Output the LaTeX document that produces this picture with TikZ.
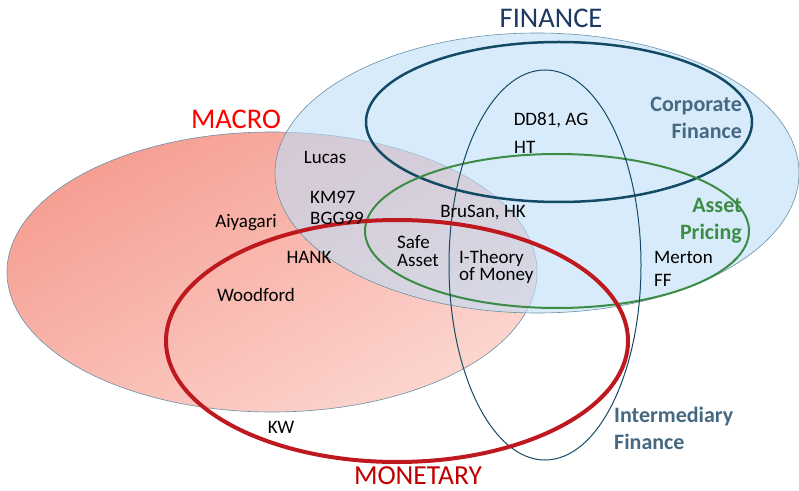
\documentclass[tikz,border=0pt]{standalone}
\usepackage{fontspec}
\setmainfont{Carlito}
\usepackage{xcolor}
\usepackage{tikz}
\usetikzlibrary{positioning, calc, shapes}
\definecolor{finfill}{RGB}{190,222,248}
\definecolor{finline}{RGB}{105,145,165}
\definecolor{macrotop}{RGB}{246,158,146}
\definecolor{macrobot}{RGB}{252,214,208}
\definecolor{corpline}{RGB}{20,75,100}
\definecolor{fieldtext}{RGB}{70,105,130}
\definecolor{assetgreen}{RGB}{60,140,70}
\definecolor{monred}{RGB}{190,25,30}
\definecolor{montext}{RGB}{192,0,0}
\definecolor{fintext}{RGB}{31,56,100}

\tikzset{
	paper/.style={inner sep=0pt, font=\fontsize{19}{17.5}\selectfont, align=left},
	field/.style={inner sep=0pt, font=\fontsize{22}{27}\selectfont\bfseries, align=right},
	title/.style={inner sep=0pt, font=\fontsize{28.5}{30}\selectfont}
}

\begin{document}
\begin{tikzpicture}[x=1pt, y=1pt]
							\useasboundingbox (0,0) rectangle (799,490);
							
							\shade[top color=macrotop, bottom color=macrobot, shading angle=30] (272,218) ellipse [x radius=265, y radius=140];
							\draw[finline, line width=0.6pt] (272,218) ellipse [x radius=265, y radius=140];
							\fill[finfill, fill opacity=0.6] (537,317) ellipse [x radius=262, y radius=140];
							\draw[finline, line width=0.6pt] (537,317) ellipse [x radius=262, y radius=140];
							
							\draw[corpline, line width=2.5pt] (559,368) ellipse [x radius=193, y radius=80];
							\draw[assetgreen, line width=2pt] (557,259) ellipse [x radius=192, y radius=77];
							\draw[corpline, line width=1pt] (545,225) ellipse [x radius=96, y radius=195];
							\draw[monred, line width=4pt] (397,149) ellipse [x radius=231, y radius=121];
							
							% field names
							\node[title, text=fintext, anchor=base] (finance) at (551,462) {FINANCE};
							\node[title, text=red, anchor=base] (macro) at (236,361) {MACRO};
							\node[title, font=\fontsize{27.5}{30}\selectfont, text=montext, anchor=base] (monetary) at (418,6) {MONETARY};
							\node[field, text=fieldtext, anchor=east] (corporate) at (742,372) {Corporate\\Finance};
							\node[field, text=assetgreen, anchor=east] (pricing) at (742,269) {Asset\\Pricing};
							\node[field, text=fieldtext, anchor=west, align=left] (intermediary) at (614,62) {Intermediary\\Finance};
							
							% papers
							\node[paper] (lucas) at (325,333) {Lucas};
							\node[paper, anchor=west] (km) at (310,293) {KM97};
							\node[paper, anchor=west] (bgg) at (310,272) {BGG99};
							\node[paper] (aiyagari) at (246,267) {Aiyagari};
							\node[paper] (hank) at (309,233) {HANK};
							\node[paper] (woodford) at (256,195) {Woodford};
							\node[paper] (kw) at (281,63) {KW};
							\node[paper] (dd) at (551,370) {DD81, AG};
							\node[paper, anchor=west] (ht) at (514,343) {HT};
							\node[paper] (brusan) at (483,277) {BruSan, HK};
							\node[paper, anchor=west] (safe) at (397,239) {Safe\\Asset};
							\node[paper, anchor=west] (itheory) at (459,223) {I-Theory\\of Money};
							\node[paper, anchor=west] (merton) at (654,233) {Merton};
							\node[paper, anchor=west] (ff) at (654,210) {FF};
\end{tikzpicture}
\end{document}
